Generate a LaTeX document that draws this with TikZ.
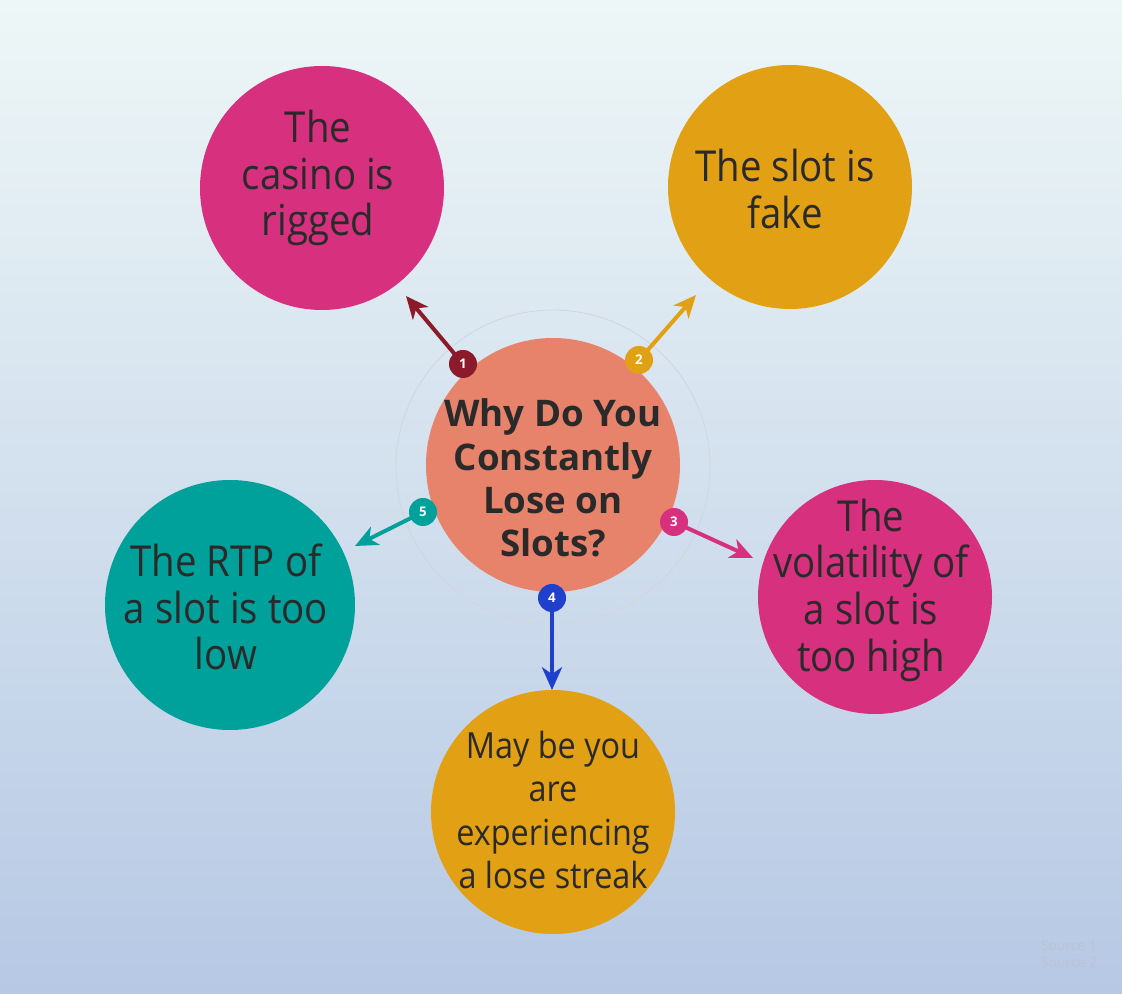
\documentclass[tikz,border=0pt]{standalone}
\usepackage{fontspec}
\setmainfont{Open Sans}
\newfontfamily\circfont[FakeStretch=0.9]{Open Sans}
\newfontfamily\centfont{Open Sans}
\usetikzlibrary{arrows.meta}
\definecolor{bgtop}{HTML}{EEF7F7}
\definecolor{bgbot}{HTML}{B6C8E4}
\definecolor{salmon}{HTML}{E8836B}
\definecolor{magenta}{HTML}{D6307F}
\definecolor{amber}{HTML}{E2A114}
\definecolor{tealc}{HTML}{00A19A}
\definecolor{darkred}{HTML}{8B1A2A}
\definecolor{bluec}{HTML}{1F3FCC}
\definecolor{txt}{HTML}{2A2A2A}
\definecolor{srcgrey}{HTML}{BEC3CE}
\definecolor{ringgrey}{HTML}{D2D6DC}
\begin{document}
\begin{tikzpicture}[x=0.75pt,y=-0.75pt,
  bubble/.style={circle,inner sep=0pt,minimum size=#1},
  ctext/.style={text=txt,align=center,font=\circfont\fontsize{32}{35}\selectfont},
  badge/.style={circle,fill=#1,inner sep=0pt,minimum size=21pt,text=white,font=\centfont\bfseries\fontsize{10}{12}\selectfont},
  conn/.style={draw=#1,line width=3pt,-{Stealth[length=17pt,width=15pt,inset=5pt]}}
]
\shade[top color=bgtop,bottom color=bgbot] (0,0) rectangle (1122,994);
\useasboundingbox (0,0) rectangle (1122,994);
% central
\node[bubble=314*0.75pt,draw=ringgrey,line width=0.6pt] (ring) at (553,467) {};
\node[bubble=254*0.75pt,fill=salmon] (center) at (553,465) {};
\node[text=txt,align=center,font=\centfont\bfseries\fontsize{27.5}{32.5}\selectfont] (ctitle) at (553,478) {Why Do You\\Constantly\\Lose on\\Slots?};
% outer circles
\node[bubble=244*0.75pt,fill=magenta] (c1) at (322,188) {};
\node[ctext] (t1) at (318,178) {The\\casino is\\rigged};
\node[bubble=244*0.75pt,fill=amber] (c2) at (790,187) {};
\node[ctext] (t2) at (785,189) {The slot is\\fake};
\node[bubble=234*0.75pt,fill=magenta] (c3) at (875,597) {};
\node[ctext] (t3) at (871,590) {The\\volatility of\\a slot is\\too high};
\node[bubble=244*0.75pt,fill=amber] (c4) at (553,812) {};
\node[ctext,font=\circfont\fontsize{27}{32.5}\selectfont] (t4) at (553,810) {May be you\\are\\experiencing\\a lose streak};
\node[bubble=250*0.75pt,fill=tealc] (c5) at (230,605) {};
\node[ctext] (t5) at (226,607) {The RTP of\\a slot is too\\low};
% endpoints
\coordinate (e1) at (406,296);
\coordinate (e2) at (696,295);
\coordinate (e3) at (753,558);
\coordinate (e4) at (552,690);
\coordinate (e5) at (355,546);
% badges positions
\coordinate (p1) at (463,364);
\coordinate (p2) at (639,360);
\coordinate (p3) at (674,522);
\coordinate (p4) at (552,598);
\coordinate (p5) at (423,512);
\draw[conn=darkred] (p1) -- (e1);
\draw[conn=amber] (p2) -- (e2);
\draw[conn=magenta] (p3) -- (e3);
\draw[conn=bluec] (p4) -- (e4);
\draw[conn=tealc] (p5) -- (e5);
\node[badge=darkred] (b1) at (p1) {1};
\node[badge=amber] (b2) at (p2) {2};
\node[badge=magenta] (b3) at (p3) {3};
\node[badge=bluec] (b4) at (p4) {4};
\node[badge=tealc] (b5) at (p5) {5};
% sources
\node[text=srcgrey,align=left,font=\fontsize{10.5}{13}\selectfont] (src) at (1069,954) {Source 1\\Source 2};
\end{tikzpicture}
\end{document}
